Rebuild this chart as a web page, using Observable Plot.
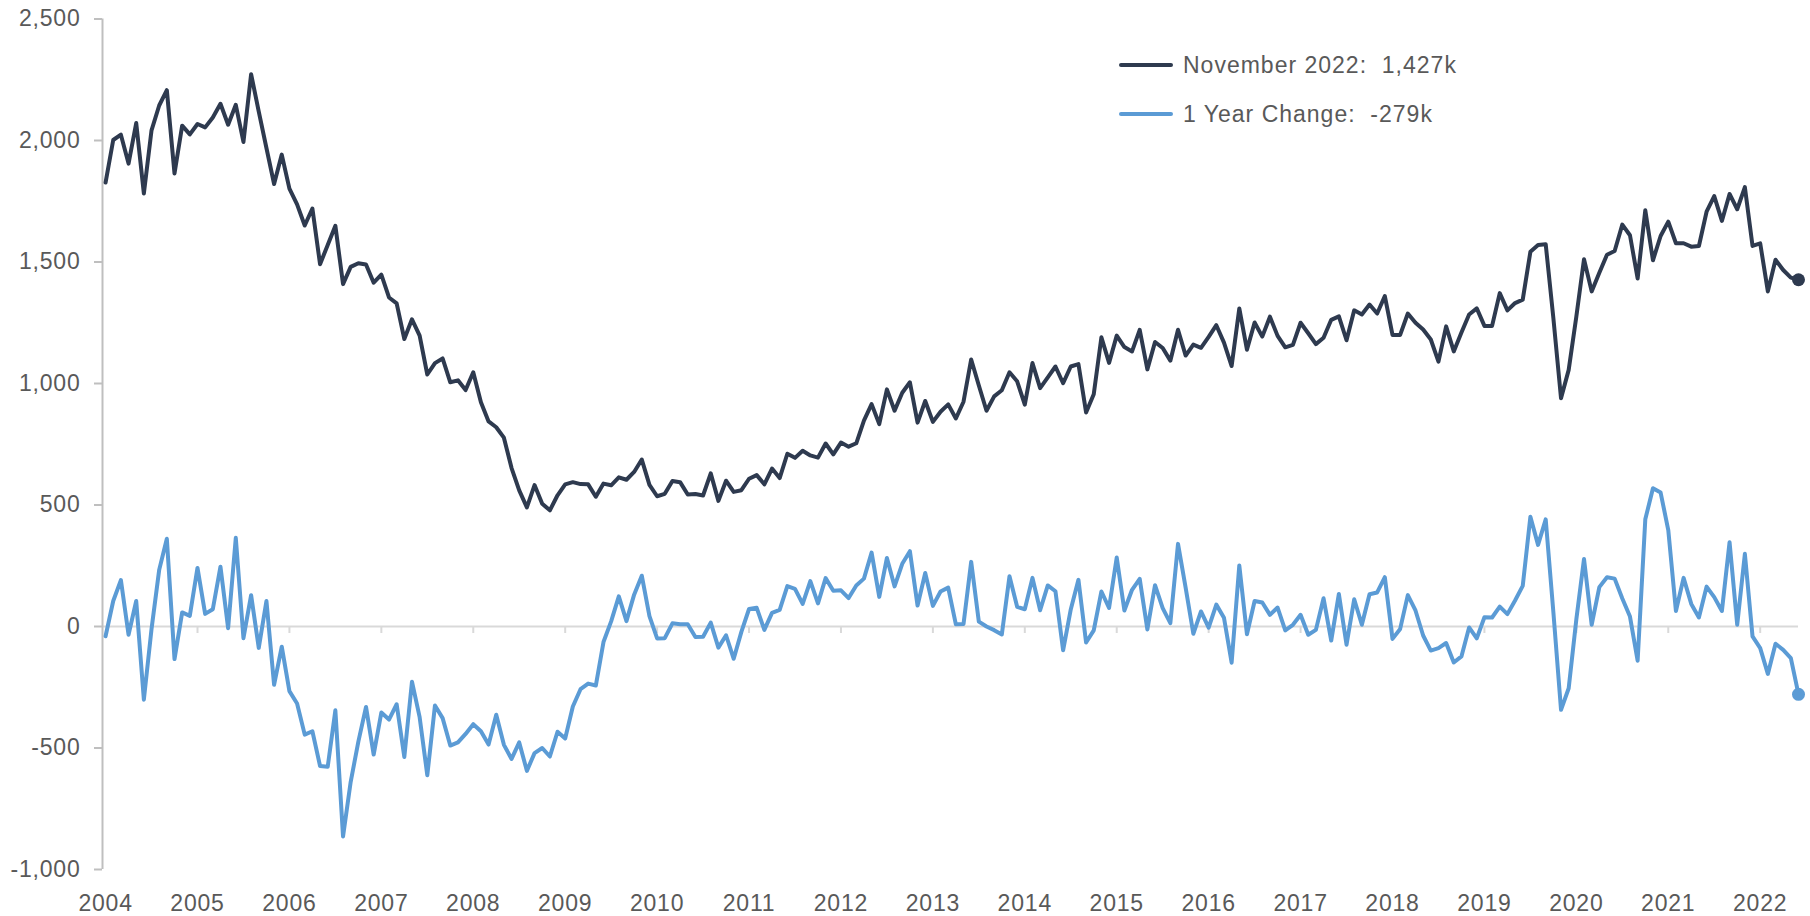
<!DOCTYPE html>
<html><head><meta charset="utf-8">
<script src="https://cdn.jsdelivr.net/npm/d3@7"></script>
<script src="https://cdn.jsdelivr.net/npm/@observablehq/plot@0.6"></script>
<style>
html,body{margin:0;padding:0;background:#fff;}
#wrap{position:relative;width:1810px;height:916px;font-family:"Liberation Sans",Arial,sans-serif;}
.legend{position:absolute;left:1119px;height:28px;color:#595959;font-size:23px;letter-spacing:1px;display:flex;align-items:center;white-space:pre;}
.sw{width:54px;height:4px;border-radius:2px;margin-right:10px;}
svg text{letter-spacing:0.8px;}
</style></head><body><div id="wrap"></div>
<script>
// Monthly series, first point = June 2004, last = November 2022
const yearLabels = ["2004","2005","2006","2007","2008","2009","2010","2011","2012","2013","2014","2015","2016","2017","2018","2019","2020","2021","2022"];
const housingStarts = [1827,2002,2024,1905,2072,1782,2042,
2144,2207,1864,2061,2025,2068,2054,2095,2151,2065,2147,1994,
2273,2119,1969,1821,1942,1802,1737,1650,1720,1491,1570,1649,
1409,1480,1495,1490,1415,1448,1354,1330,1183,1264,1197,1037,
1084,1103,1005,1013,973,1046,923,844,820,777,652,560,
490,582,505,478,540,585,594,586,585,534,588,581,
614,604,636,687,583,536,546,599,594,543,545,539,
630,517,600,554,561,608,623,585,650,611,711,694,
723,704,695,753,708,757,740,754,847,915,833,976,
888,962,1005,839,928,842,884,914,856,925,1099,992,
888,947,972,1046,1009,913,1084,981,1025,1070,1001,1070,
1080,881,956,1190,1085,1197,1150,1132,1221,1058,1171,1146,
1094,1221,1115,1160,1147,1192,1240,1168,1072,1309,1139,1251,
1193,1275,1196,1149,1159,1250,1207,1162,1188,1262,1276,1178,
1301,1284,1325,1288,1360,1200,1200,1288,1250,1222,1181,1090,
1235,1132,1210,1284,1309,1237,1237,1372,1301,1331,1345,1542,
1570,1573,1269,939,1056,1276,1511,1379,1456,1530,1545,1654,
1610,1432,1713,1507,1607,1666,1577,1577,1563,1566,1707,1771,
1669,1780,1717,1808,1566,1577,1379,1509,1467,1436,1427];
const yearChange = [-40,105,191,-34,105,-301,-10,
233,361,-134,58,44,241,52,71,246,-7,365,-48,
129,-88,105,-240,-83,-266,-317,-445,-431,-574,-577,-345,
-864,-639,-474,-331,-527,-354,-383,-320,-537,-227,-373,-612,
-325,-377,-490,-477,-442,-402,-431,-486,-363,-487,-545,-477,
-594,-521,-500,-535,-433,-461,-329,-258,-235,-243,-64,21,
124,22,131,209,43,-49,-48,13,9,9,-43,-42,
16,-87,-36,-133,-22,72,77,-14,56,68,166,155,
93,187,95,199,147,149,117,169,197,304,122,282,
165,258,310,86,220,85,144,160,9,10,266,20,
0,-15,-33,207,81,71,200,67,169,145,-98,70,
192,-66,-16,144,76,284,66,151,196,-12,170,76,
14,340,159,-30,62,-5,90,36,-149,251,-32,105,
99,48,78,-16,7,48,-34,-14,116,-58,134,-75,
112,7,133,140,203,-51,-10,129,66,-37,-99,-89,
-68,-148,-123,-4,-49,38,37,82,51,107,167,452,
336,441,59,-343,-254,30,278,7,162,203,197,115,
41,-141,441,569,551,397,64,200,93,37,164,121,
64,347,7,299,-41,-89,-195,-71,-96,-130,-279];
const yTicks = [-1000,-500,0,500,1000,1500,2000,2500];
const seriesNames = ["November 2022:  1,427k", "1 Year Change:  -279k"];
const seriesColors = ["#2E3A4F", "#5B9BD5"];

const rows = housingStarts.map((v, i) => ({i, starts: v, change: yearChange[i]}));
const yearTickIdx = yearLabels.map((_, k) => k * 12);
const xDomain = [-0.4, housingStarts.length - 1];

const chart = Plot.plot({
  width: 1810, height: 916,
  marginLeft: 102, marginRight: 12, marginTop: 18.5, marginBottom: 47,
  style: {fontFamily: "'Liberation Sans', Arial, sans-serif", fontSize: "23px", color: "#595959", background: "white", overflow: "visible"},
  x: {type: "linear", domain: xDomain},
  y: {domain: [yTicks[0], yTicks[yTicks.length - 1]]},
  marks: [
    Plot.ruleY([0], {stroke: "#d9d9d9", strokeWidth: 2}),
    Plot.ruleX(yearTickIdx.slice(1), {y1: 0, y2: 0, insetBottom: -7, stroke: "#d9d9d9", strokeWidth: 2}),
    Plot.ruleX([xDomain[0]], {stroke: "#bfbfbf", strokeWidth: 2}),
    Plot.axisY({ticks: yTicks, tickFormat: d => d.toLocaleString("en-US"), tickSize: 8, tickPadding: 14, stroke: "#bfbfbf", strokeWidth: 2, strokeOpacity: 1, label: null}),
    Plot.axisX({ticks: yearTickIdx, tickFormat: i => yearLabels[i / 12], tickSize: 0, tickPadding: 25, label: null}),
    Plot.lineY(rows, {x: "i", y: "change", stroke: seriesColors[1], strokeWidth: 4, strokeLinejoin: "round"}),
    Plot.lineY(rows, {x: "i", y: "starts", stroke: seriesColors[0], strokeWidth: 4, strokeLinejoin: "round"}),
    Plot.dot(rows.slice(-1), {x: "i", y: "starts", r: 6.5, fill: seriesColors[0]}),
    Plot.dot(rows.slice(-1), {x: "i", y: "change", r: 6.5, fill: seriesColors[1]})
  ]
});
const wrap = document.getElementById("wrap");
wrap.appendChild(chart);
const legendTops = [51, 100];
seriesNames.forEach((name, k) => {
  const row = document.createElement("div");
  row.className = "legend";
  row.style.top = legendTops[k] + "px";
  const sw = document.createElement("div");
  sw.className = "sw";
  sw.style.background = seriesColors[k];
  const t = document.createElement("span");
  t.textContent = name;
  row.appendChild(sw); row.appendChild(t);
  wrap.appendChild(row);
});
</script>
</body></html>
